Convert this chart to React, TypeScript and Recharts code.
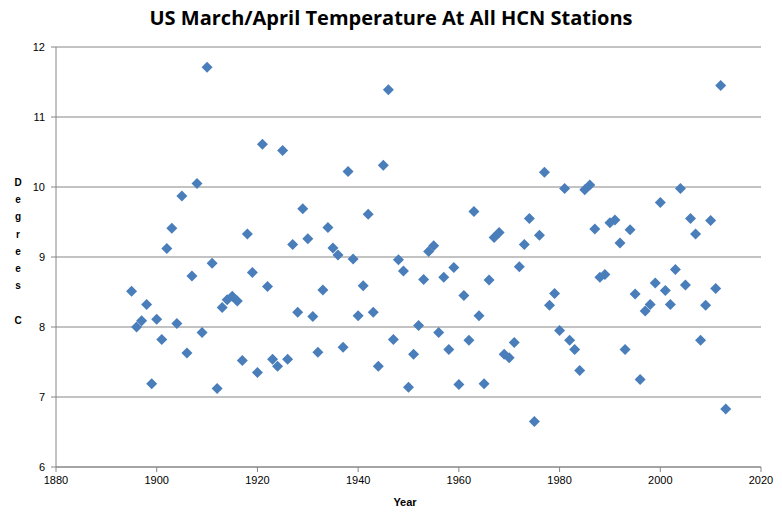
import { CartesianGrid, Label, Scatter, ScatterChart, XAxis, YAxis } from "recharts";

const years = [
  1895, 1896, 1897, 1898, 1899, 1900, 1901, 1902, 1903, 1904, 1905, 1906, 1907, 1908, 1909,
  1910, 1911, 1912, 1913, 1914, 1915, 1916, 1917, 1918, 1919, 1920, 1921, 1922, 1923, 1924,
  1925, 1926, 1927, 1928, 1929, 1930, 1931, 1932, 1933, 1934, 1935, 1936, 1937, 1938, 1939,
  1940, 1941, 1942, 1943, 1944, 1945, 1946, 1947, 1948, 1949, 1950, 1951, 1952, 1953, 1954,
  1955, 1956, 1957, 1958, 1959, 1960, 1961, 1962, 1963, 1964, 1965, 1966, 1967, 1968, 1969,
  1970, 1971, 1972, 1973, 1974, 1975, 1976, 1977, 1978, 1979, 1980, 1981, 1982, 1983, 1984,
  1985, 1986, 1987, 1988, 1989, 1990, 1991, 1992, 1993, 1994, 1995, 1996, 1997, 1998, 1999,
  2000, 2001, 2002, 2003, 2004, 2005, 2006, 2007, 2008, 2009, 2010, 2011, 2012, 2013,
];

const temps = [
  8.51, 8.0, 8.09, 8.32, 7.19, 8.11, 7.82, 9.12, 9.41, 8.05, 9.87, 7.63, 8.73, 10.05, 7.92,
  11.71, 8.91, 7.12, 8.28, 8.39, 8.44, 8.37, 7.52, 9.33, 8.78, 7.35, 10.61, 8.58, 7.54, 7.44,
  10.52, 7.54, 9.18, 8.21, 9.69, 9.26, 8.15, 7.64, 8.53, 9.42, 9.13, 9.03, 7.71, 10.22, 8.97,
  8.16, 8.59, 9.61, 8.21, 7.44, 10.31, 11.39, 7.82, 8.96, 8.8, 7.14, 7.61, 8.02, 8.68, 9.08,
  9.16, 7.92, 8.71, 7.68, 8.85, 7.18, 8.45, 7.81, 9.65, 8.16, 7.19, 8.67, 9.28, 9.35, 7.61,
  7.56, 7.78, 8.86, 9.18, 9.55, 6.65, 9.31, 10.21, 8.31, 8.48, 7.95, 9.98, 7.81, 7.68, 7.38,
  9.96, 10.03, 9.4, 8.71, 8.75, 9.49, 9.53, 9.2, 7.68, 9.39, 8.47, 7.25, 8.23, 8.32, 8.63,
  9.78, 8.52, 8.32, 8.82, 9.98, 8.6, 9.55, 9.33, 7.81, 8.31, 9.52, 8.55, 11.45, 6.83,
];

const xTicks = [1880, 1900, 1920, 1940, 1960, 1980, 2000, 2020];
const yTicks = [6, 7, 8, 9, 10, 11, 12];

const data = years.map((year, i) => ({ year, temp: temps[i] }));

const axisGray = "#868686";
const tickStyle = { fontSize: 11, fill: "#000", fontFamily: "'Liberation Sans', Arial, sans-serif" };

function Diamond(props: any) {
  const { cx, cy } = props;
  const r = 5.5;
  return (
    <path
      d={`M${cx},${cy - r}L${cx + r},${cy}L${cx},${cy + r}L${cx - r},${cy}Z`}
      fill="#4A7EBB"
    />
  );
}

function VerticalLetters(props: any) {
  const letters = ["D", "e", "g", "r", "e", "e", "s", "", "C"];
  return (
    <text
      x={18}
      y={186}
      textAnchor="middle"
      fontSize={10}
      fontWeight="bold"
      fontFamily="'Liberation Sans', Arial, sans-serif"
      fill="#000"
    >
      {letters.map((l, i) => (
        <tspan key={i} x={18} y={186 + i * 17.2}>
          {l}
        </tspan>
      ))}
    </text>
  );
}

function YearLabel(props: any) {
  return (
    <text
      x={405}
      y={506}
      textAnchor="middle"
      fontSize={11}
      fontWeight="bold"
      fontFamily="'Liberation Sans', Arial, sans-serif"
      fill="#000"
    >
      Year
    </text>
  );
}

export default function App() {
  return (
    <div style={{ position: "absolute", left: 0, top: 0, width: 782, height: 524, background: "#fff" }}>
      <div
        style={{
          position: "absolute",
          left: 0,
          top: 4,
          width: 782,
          textAlign: "center",
          fontFamily: "'Open Sans', 'Liberation Sans', sans-serif",
          fontWeight: 700,
          fontSize: 20,
          color: "#000",
          lineHeight: "28px",
        }}
      >
        US March/April Temperature At All HCN Stations
      </div>
      <ScatterChart
        width={782}
        height={524}
        margin={{ top: 47, right: 21, bottom: 0, left: 0 }}
        style={{ position: "absolute", left: 0, top: 0 }}
      >
        <CartesianGrid vertical={false} stroke={axisGray} strokeWidth={1} />
        <XAxis
          type="number"
          dataKey="year"
          domain={[1880, 2020]}
          ticks={xTicks}
          interval={0}
          height={57}
          stroke={axisGray}
          tickSize={5}
          tickMargin={4}
          tick={tickStyle}
        >
          <Label content={<YearLabel />} />
        </XAxis>
        <YAxis
          type="number"
          dataKey="temp"
          domain={[6, 12]}
          ticks={yTicks}
          interval={0}
          width={56}
          stroke={axisGray}
          tickSize={5}
          tickMargin={6}
          tick={tickStyle}
        >
          <Label content={<VerticalLetters />} />
        </YAxis>
        <Scatter data={data} shape={<Diamond />} isAnimationActive={false} />
      </ScatterChart>
    </div>
  );
}
